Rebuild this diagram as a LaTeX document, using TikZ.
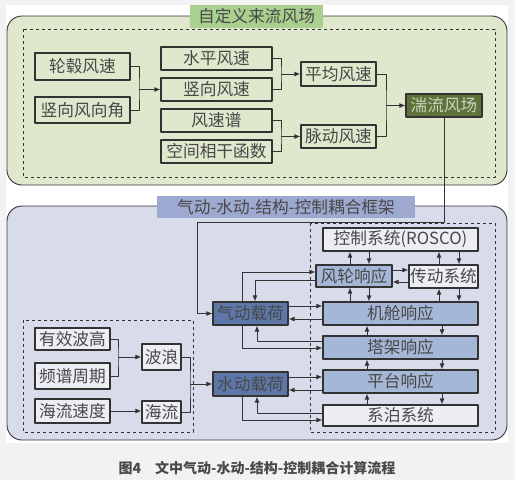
\documentclass[tikz,border=0pt]{standalone}
\usepackage{fontspec}
\setmainfont{Noto Sans CJK SC}
\usetikzlibrary{arrows.meta}

\definecolor{pagec}{HTML}{F2F2F2}
\definecolor{linec}{HTML}{333333}
\definecolor{textc}{HTML}{484848}
\definecolor{greenbg}{HTML}{DFE8CC}
\definecolor{greentitle}{HTML}{AAD08F}
\definecolor{greendark}{HTML}{5E7339}
\definecolor{bluebg}{HTML}{D8DCEA}
\definecolor{bluetitle}{HTML}{9EA9D1}
\definecolor{bluedark}{HTML}{5D77A8}
\definecolor{bluemid}{HTML}{A5B7D7}
\definecolor{bluelight}{HTML}{ECEEF4}

\begin{document}
\begin{tikzpicture}[x=1pt, y=-1pt, line join=bevel,
>={Latex[length=6pt,width=5pt]},
font=\fontsize{16.7}{18}\selectfont,
box/.style={draw=linec, line width=1.1pt, inner sep=0pt, text=textc},
panel/.style={draw=linec, line width=0.9pt, rounded corners=15pt},
frame/.style={draw=linec, line width=0.9pt, dashed},
link/.style={draw=linec, line width=1pt}
]
\def\mywidth{515}
\def\myheight{480}
\useasboundingbox (0,0) rectangle (\mywidth,\myheight);
\fill[pagec] (0,0) rectangle (\mywidth,\myheight);
\fill[white] (6,5) rectangle (508,443);

% incoming wind field
\draw[panel, fill=greenbg] (7,16) rectangle (507,185);
\draw[frame] (23,29) rectangle (495,177);
\node[fill=greentitle, text=textc, minimum width=133pt, minimum height=23pt, inner sep=0pt] (wtitle) at (256.5,16.5) {自定义来流风场};

\node[box, minimum width=95pt, minimum height=27pt] (hubws) at (82.5,66.5) {轮毂风速};
\node[box, minimum width=95pt, minimum height=26pt] (vdir) at (82.5,110) {竖向风向角};
\node[box, minimum width=111pt, minimum height=23pt] (hws) at (216.5,58.5) {水平风速};
\node[box, minimum width=111pt, minimum height=23pt] (vws) at (216.5,89.5) {竖向风速};
\node[box, minimum width=111pt, minimum height=23pt] (spec) at (216.5,120.5) {风速谱};
\node[box, minimum width=111pt, minimum height=23pt] (coh) at (216.5,151.5) {空间相干函数};
\node[box, minimum width=75pt, minimum height=24pt] (mean) at (338.5,74) {平均风速};
\node[box, minimum width=75pt, minimum height=23pt] (fluc) at (338.5,136.5) {脉动风速};
\node[box, fill=greendark, text=greenbg!80!gray, minimum width=76pt, minimum height=23pt] (turb) at (444,105.5) {湍流风场};

\coordinate (ja) at (139,89.5);
\coordinate (jb) at (281,74);
\coordinate (jc) at (281,136.5);
\coordinate (jd) at (386,105.5);
\draw[link] (hubws.east) -| (ja) |- (vdir.east);
\draw[link,->] (ja) -- (vws.west);
\draw[link] (hws.east) -| (jb) |- (vws.east);
\draw[link,->] (jb) -- (mean.west);
\draw[link] (spec.east) -| (jc) |- (coh.east);
\draw[link,->] (jc) -- (fluc.west);
\draw[link] (mean.east) -| (jd) |- (fluc.east);
\draw[link,->] (jd) -- (turb.west);

% coupling framework
\draw[panel, fill=bluebg] (7,206) rectangle (507,440);
\node[fill=bluetitle, text=textc, minimum width=258pt, minimum height=22pt, inner sep=0pt] (ctitle) at (286,207) {气动-水动-结构-控制耦合框架};
\draw[frame] (310,223) rectangle (495,432);
\draw[frame] (23,320) rectangle (193,432);

\node[box, fill=bluelight, minimum width=155pt, minimum height=23pt] (ctrl) at (400.5,239.5) {控制系统(ROSCO)};
\node[box, fill=bluemid, minimum width=76pt, minimum height=22pt] (rotor) at (354,276) {风轮响应};
\node[box, fill=bluelight, minimum width=69pt, minimum height=23pt] (drive) at (443.5,276.5) {传动系统};
\node[box, fill=bluemid, minimum width=155pt, minimum height=23pt] (nac) at (400.5,313.5) {机舱响应};
\node[box, fill=bluemid, minimum width=155pt, minimum height=23pt] (tower) at (400.5,347.5) {塔架响应};
\node[box, fill=bluemid, minimum width=155pt, minimum height=23pt] (plat) at (400.5,381.5) {平台响应};
\node[box, fill=bluelight, minimum width=155pt, minimum height=21pt] (moor) at (400.5,415.5) {系泊系统};
\node[box, fill=bluedark, minimum width=75pt, minimum height=23pt] (aero) at (250.5,313.5) {气动载荷};
\node[box, fill=bluedark, minimum width=75pt, minimum height=24pt] (hydro) at (250.5,384) {水动载荷};
\node[box, fill=bluelight, minimum width=75pt, minimum height=22pt] (hs) at (72.5,339) {有效波高};
\node[box, fill=bluelight, minimum width=75pt, minimum height=26pt] (tp) at (72.5,376) {频谱周期};
\node[box, fill=bluelight, minimum width=75pt, minimum height=24pt] (cur) at (72.5,411) {海流速度};
\node[box, fill=bluelight, minimum width=39pt, minimum height=26pt] (wave) at (161.5,357) {波浪};
\node[box, fill=bluelight, minimum width=39pt, minimum height=22pt] (flow) at (161.5,412) {海流};

\coordinate (je) at (197,222);
\draw[link,->] (turb.south) |- (je) |- (aero.west);

\coordinate (jf) at (118,357);
\coordinate (jg) at (190,384);
\draw[link] (hs.east) -| (jf) |- (tp.east);
\draw[link,->] (jf) -- (wave.west);
\draw[link,->] (cur.east) -- (cur.east -| flow.west);
\draw[link] (wave.east) -| (jg) |- (flow.east);
\draw[link,->] (jg) -- (hydro.west);

% control and drive train
\draw[link,->] ([xshift=-4pt]rotor.north) -- ([xshift=-4pt]rotor.north |- ctrl.south);
\draw[link,->] ([xshift=15pt]rotor.north |- ctrl.south) -- ([xshift=15pt]rotor.north);
\draw[link,->] ([xshift=-4.5pt]drive.north) -- ([xshift=-4.5pt]drive.north |- ctrl.south);
\draw[link,->] ([xshift=15.5pt]drive.north |- ctrl.south) -- ([xshift=15.5pt]drive.north);
\draw[link,->] ([xshift=-4pt]rotor.south |- nac.north) -- ([xshift=-4pt]rotor.south);
\draw[link,->] ([xshift=15pt]rotor.south) -- ([xshift=15pt]rotor.south |- nac.north);
\draw[link,->] ([xshift=-4.5pt]drive.south |- nac.north) -- ([xshift=-4.5pt]drive.south);
\draw[link,->] ([xshift=15.5pt]drive.south) -- ([xshift=15.5pt]drive.south |- nac.north);
\draw[link,->] ([yshift=6pt]rotor.east) -- ([yshift=6pt]rotor.east -| drive.west);
\draw[link,->] ([yshift=-6pt]rotor.east -| drive.west) -- ([yshift=-6pt]rotor.east);

% structure chain
\foreach \upper/\lower in {nac/tower, tower/plat, plat/moor}{
  \draw[link,->] ([xshift=-33.5pt]\lower.north) -- ([xshift=-33.5pt]\upper.south);
  \draw[link,->] ([xshift=41.5pt]\upper.south) -- ([xshift=41.5pt]\lower.north);
}

% loads
\draw[link,->] ([yshift=7.5pt]aero.east) -- ([yshift=7.5pt]aero.east -| nac.west);
\draw[link,->] ([yshift=-5.5pt]aero.east -| nac.west) -- ([yshift=-5.5pt]aero.east);
\draw[link,->] ([xshift=-8pt]aero.north) |- ([yshift=4pt]rotor.west);
\draw[link,->] ([yshift=-4pt]rotor.west) -| ([xshift=4.5pt]aero.north);
\draw[link,->] ([xshift=-8pt]aero.south) |- ([yshift=-0.5pt]tower.west);
\draw[link,->] ([yshift=6.5pt]tower.west) -| ([xshift=6.5pt]aero.south);
\draw[link,->] ([yshift=7pt]hydro.east) -- ([yshift=7pt]hydro.east -| plat.west);
\draw[link,->] ([yshift=-6pt]hydro.east -| plat.west) -- ([yshift=-6pt]hydro.east);
\draw[link,->] ([xshift=-8pt]hydro.south) |- ([yshift=-4.5pt]moor.west);
\draw[link,->] ([yshift=2.5pt]moor.west) -| ([xshift=6.5pt]hydro.south);

\node[font=\fontsize{14}{16}\selectfont\bfseries, text=textc] (cap) at (257,468) {图4\hspace{1em}文中气动-水动-结构-控制耦合计算流程};
\end{tikzpicture}
\end{document}
